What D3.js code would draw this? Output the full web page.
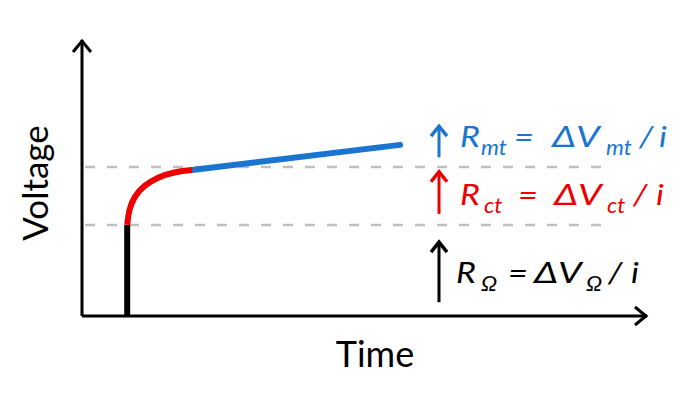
<!DOCTYPE html>
<html>
<head>
<meta charset="utf-8">
<script src="https://cdn.jsdelivr.net/npm/d3@7"></script>
<style>
  body { margin: 0; background: #fff; }
  text { font-family: Lato, "Open Sans", sans-serif; }
</style>
</head>
<body>
<div id="chart"></div>
<script>
// curve pieces, in arbitrary time / voltage units (0-100)
var ohmicT = [8, 8];
var ohmicV = [0, 33];
var ctT = [8, 8.3, 9.2, 10.9, 13.4, 16.3, 19.5];
var ctV = [33, 38.5, 43.2, 47.2, 50.3, 52.2, 52.9];
var mtT = [19.5, 56.3];
var mtV = [52.9, 62];
var levels = [33, 54];
var levelEnd = 92.6;

var axisLabels = ["Time", "Voltage"];
var eqNames = ["mt", "ct", "Ω"];
var eqColors = ["#1b75cf", "#ee0000", "#000000"];
// arrow extents in voltage units
var arrowFrom = [57.5, 37, 5];
var arrowTo = [69.5, 53, 27.5];

var svgWidth = 692, svgHeight = 393;

var svg = d3.select("#chart")
  .append("svg")
  .attr("width", svgWidth)
  .attr("height", svgHeight);

var x = d3.scaleLinear().domain([0, 100]).range([82, 647]);
var y = d3.scaleLinear().domain([0, 100]).range([316, 40]);

function zip(ts, vs) {
  return ts.map((t, i) => [t, vs[i]]);
}

var line = d3.line()
  .x(d => x(d[0]))
  .y(d => y(d[1]));

// dashed level lines
svg.selectAll(".level")
  .data(levels)
  .enter()
  .append("line")
  .attr("class", "level")
  .attr("x1", x(0))
  .attr("x2", x(levelEnd))
  .attr("y1", d => y(d))
  .attr("y2", d => y(d))
  .attr("stroke", "#bfbfbf")
  .attr("stroke-width", 2.5)
  .attr("stroke-dasharray", "10,12")
  .attr("stroke-dashoffset", -3);

// axes
svg.append("path")
  .attr("d", `M${x(0)},${y(0)} L${x(0)},${y(100)}`)
  .attr("stroke", "#000").attr("stroke-width", 3).attr("fill", "none");
svg.append("path")
  .attr("d", `M${x(0)},${y(0)} L${x(100)},${y(0)}`)
  .attr("stroke", "#000").attr("stroke-width", 3).attr("fill", "none");
// arrow heads
svg.append("path")
  .attr("d", `M${x(0) - 9},${y(100) + 12} L${x(0)},${y(100) + 1} L${x(0) + 9},${y(100) + 12}`)
  .attr("stroke", "#000").attr("stroke-width", 3).attr("fill", "none");
svg.append("path")
  .attr("d", `M${x(100) - 12},${y(0) - 9} L${x(100) - 1},${y(0)} L${x(100) - 12},${y(0) + 9}`)
  .attr("stroke", "#000").attr("stroke-width", 3).attr("fill", "none");

// the voltage curve
svg.append("path")
  .datum(zip(ohmicT, ohmicV))
  .attr("d", line)
  .attr("stroke", eqColors[2]).attr("stroke-width", 6).attr("fill", "none");
svg.append("path")
  .datum(zip(mtT, mtV))
  .attr("d", line)
  .attr("stroke", eqColors[0]).attr("stroke-width", 6)
  .attr("stroke-linecap", "round").attr("fill", "none");
svg.append("path")
  .datum(zip(ctT, ctV))
  .attr("d", line.curve(d3.curveBasis))
  .attr("stroke", eqColors[1]).attr("stroke-width", 6).attr("fill", "none");

// axis titles
svg.append("text")
  .attr("x", 375).attr("y", 367)
  .attr("text-anchor", "middle")
  .style("font-size", "36px")
  .text(axisLabels[0]);
svg.append("text")
  .attr("transform", "translate(48,183) rotate(-90)")
  .attr("text-anchor", "middle")
  .style("font-size", "35px")
  .text(axisLabels[1]);

// equations with arrows; each piece set where it sits in the picture,
// glyphs a little wider than the font gives
var eqBase = [147, 205, 283];
var eqStarts = [
  [460, 481, 514, 552, 606, 639, 659],
  [460, 484, 518, 554, 607, 633, 656],
  [456, 481, 508, 534, 586, 608, 631]
];
eqNames.forEach(function(name, i) {
  var ax = 439;
  var top = y(arrowTo[i]);
  svg.append("line")
    .attr("x1", ax).attr("x2", ax)
    .attr("y1", y(arrowFrom[i])).attr("y2", top + 2)
    .attr("stroke", eqColors[i]).attr("stroke-width", 3);
  svg.append("path")
    .attr("d", `M${ax - 8},${top + 12} L${ax},${top + 2} L${ax + 8},${top + 12}`)
    .attr("stroke", eqColors[i]).attr("stroke-width", 3.5).attr("fill", "none");

  var pieces = ["R", name, "=", "ΔV", name, "/", "i"];
  pieces.forEach(function(p, k) {
    var sub = (k == 1 || k == 4);
    var sx = (k == 3) ? 1.3 : (sub ? 1.08 : 1.18);
    svg.append("text")
      .attr("transform", `translate(${eqStarts[i][k]},${eqBase[i] + (sub ? 8 : 0)}) scale(${sx},1)`)
      .attr("fill", eqColors[i])
      .style("font-size", sub ? "21px" : "29px")
      .style("font-style", "italic")
      .text(p);
  });
});
</script>
</body>
</html>
